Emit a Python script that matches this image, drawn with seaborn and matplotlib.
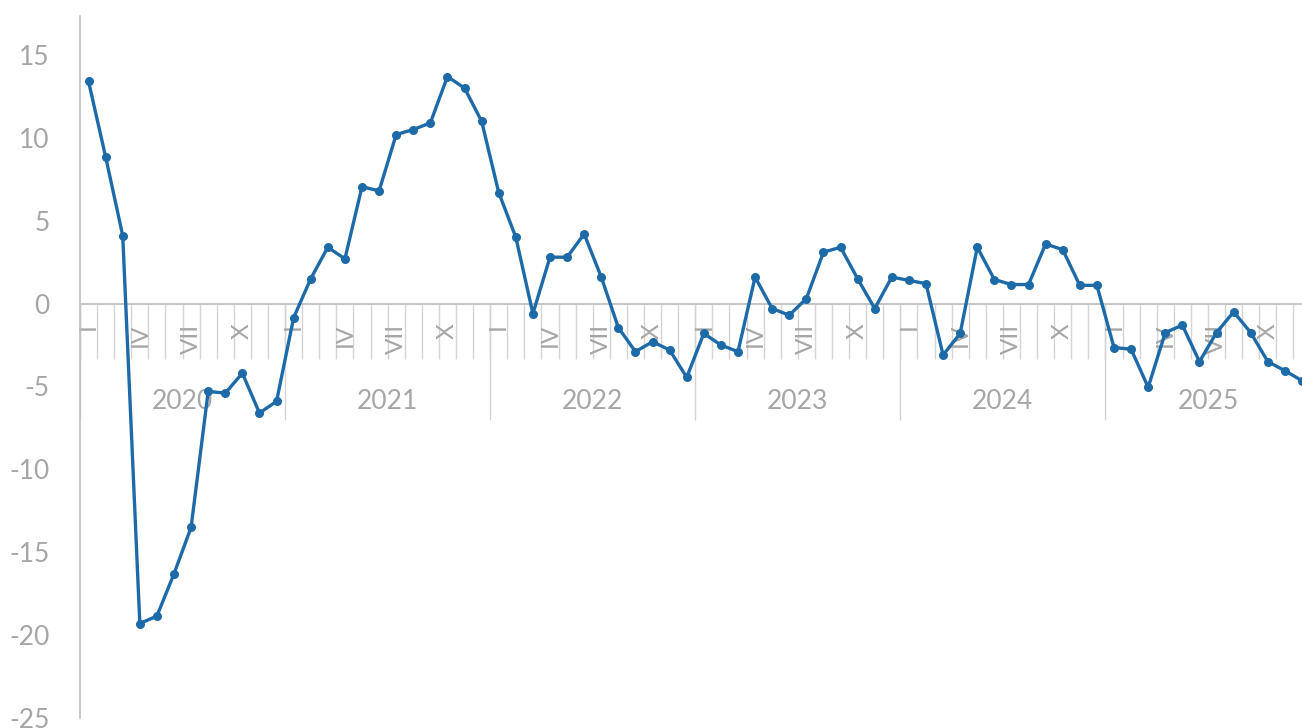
import numpy as np
import pandas as pd
import matplotlib.pyplot as plt
import seaborn as sns

# monthly values
years = [2020, 2021, 2022, 2023, 2024, 2025]
month_labels = ["I", "", "", "IV", "", "", "VII", "", "", "X", "", ""]

v2020 = [13.4, 8.85, 4.1, -19.3, -18.85, -16.3, -13.5, -5.3, -5.4, -4.2, -6.6, -5.9]
v2021 = [-0.85, 1.5, 3.4, 2.7, 7.05, 6.8, 10.2, 10.5, 10.9, 13.7, 13.0, 11.0]
v2022 = [6.7, 4.0, -0.6, 2.8, 2.8, 4.2, 1.6, -1.45, -2.9, -2.3, -2.8, -4.45]
v2023 = [-1.8, -2.5, -2.9, 1.6, -0.3, -0.7, 0.3, 3.1, 3.4, 1.5, -0.3, 1.6]
v2024 = [1.4, 1.2, -3.1, -1.8, 3.4, 1.45, 1.15, 1.15, 3.6, 3.25, 1.1, 1.1]
v2025 = [-2.65, -2.75, -5.05, -1.75, -1.3, -3.5, -1.75, -0.5, -1.75, -3.5, -4.05, -4.65]

values = v2020 + v2021 + v2022 + v2023 + v2024 + v2025
df = pd.DataFrame({"idx": np.arange(len(values)), "value": values})

LINE = "#1c6aa8"
TXT = "#a6a6a6"
AXC = "#bfbfbf"
SEP = "#d4d4d4"

sns.set_style("white")
plt.rcParams["font.family"] = ["Lato", "DejaVu Sans"]
plt.rcParams["axes.unicode_minus"] = False

fig = plt.figure(figsize=(13.02, 7.28), dpi=100)
ax = fig.add_axes([80 / 1302, 10 / 728, 1 - 80 / 1302, 702 / 728])

n = len(values)
# separators below the zero line
ax.vlines(np.arange(n) - 0.5, -3.37, 0, color=SEP, linewidth=1, zorder=1)
ax.vlines(np.arange(0, n, 12) - 0.5, -7.0, 0, color=SEP, linewidth=1, zorder=1)
ax.axhline(0, color=AXC, linewidth=1.3, zorder=2)

sns.lineplot(data=df, x="idx", y="value", ax=ax, color=LINE, linewidth=2.4,
             marker="o", markersize=6.5, markeredgewidth=0, zorder=3)

for i in range(n):
    lab = month_labels[i % 12]
    if lab:
        ax.text(i, -1.2, lab, rotation=90, ha="center", va="top",
                fontsize=17.5, color=TXT, zorder=1)
for k, yr in enumerate(years):
    ax.text(12 * k + 5.5, -5.9, str(yr), ha="center", va="center",
            fontsize=19, color=TXT, zorder=1)

ax.set_xlim(-0.5, 71.0)
ax.set_ylim(-25, 17.35)
ax.set_yticks(range(-25, 16, 5))
ax.set_xticks([])
ax.tick_params(axis="y", length=0, pad=22, labelsize=19, labelcolor=TXT)
ax.set_xlabel("")
ax.set_ylabel("")
for s in ["top", "right", "bottom"]:
    ax.spines[s].set_visible(False)
ax.spines["left"].set_color(AXC)
ax.spines["left"].set_linewidth(1.2)

fig.savefig("out.png", dpi=100)
